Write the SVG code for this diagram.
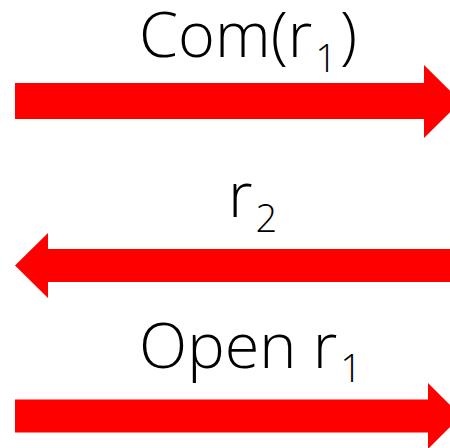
<svg xmlns="http://www.w3.org/2000/svg" width="450" height="448" viewBox="0 0 450 448">
  <style>
    .arrow { fill: #ff0000; }
    .label { font-family: "Open Sans", Roboto, "Liberation Sans", sans-serif; font-weight: 300; fill: #000; }
    .main { font-size: 63px; }
    .sub { font-size: 38px; }
  </style>
  <rect width="450" height="448" fill="#fff"/>
  <g id="connectors">
    <!-- Com(r1): left to right -->
    <g id="msg-commit">
      <polygon class="arrow" points="15,83 424,83 424,65 461,101.5 424,138 424,119 15,119"/>
      <text class="label main" x="139" y="57">Com(r<tspan class="sub" dx="3" dy="15">1</tspan><tspan dx="3" dy="-15">)</tspan></text>
    </g>
    <!-- r2: right to left -->
    <g id="msg-r2">
      <polygon class="arrow" points="450,249 48,249 48,233 15,265.5 48,298 48,282 450,282"/>
      <text class="label main" x="228" y="217">r<tspan class="sub" dx="3" dy="15">2</tspan></text>
    </g>
    <!-- Open r1: left to right -->
    <g id="msg-open">
      <polygon class="arrow" points="15,399.5 428,399.5 428,383 461,416 428,449 428,432.5 15,432.5"/>
      <text class="label main" x="139" y="368">Open r<tspan class="sub" dx="3" dy="14">1</tspan></text>
    </g>
  </g>
</svg>
